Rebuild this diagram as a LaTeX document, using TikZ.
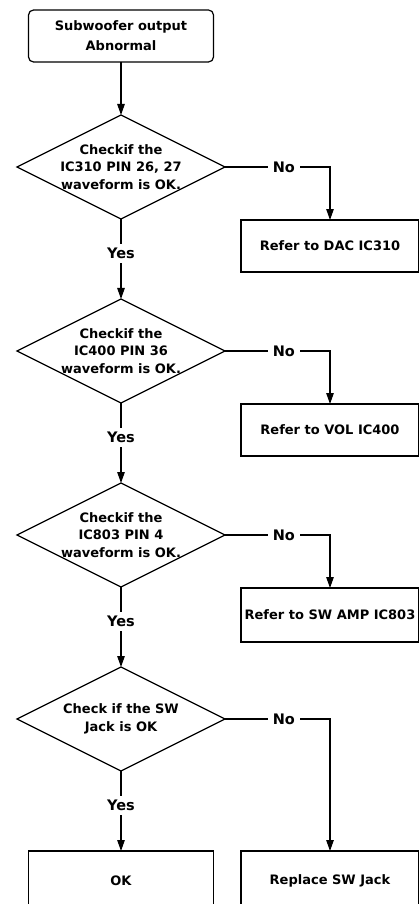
\documentclass[tikz,border=0pt]{standalone}
\usepackage{fontspec}
\setmainfont{DejaVu Sans}
\usetikzlibrary{
  arrows.meta,
  positioning,
  shapes.geometric,
}
\tikzset{
node distance=80pt,
  x = 1pt,
  y = 1pt,
  n/.style={
    draw, line width=1.2pt, inner sep=0pt, outer sep=0pt, align=center,
    font=\bfseries\fontsize{13}{17.5}\selectfont,
  },
  start/.style={n, rounded corners=5pt, minimum width=185pt, minimum height=52pt,
    font=\bfseries\fontsize{13}{20}\selectfont},
  check/.style={n, diamond, aspect=2, inner sep=-6pt,
    minimum width=208pt, minimum height=104pt},
  act/.style={n, minimum width=178pt, minimum height=52pt},
  lbl/.style={fill=white, inner xsep=5pt, inner ysep=4pt,
    font=\bfseries\fontsize{14.5}{16}\selectfont},
  >={Triangle[length=11pt,width=7.5pt]},
}
\begin{document}
\begin{tikzpicture}[line width=1.2pt]
  \useasboundingbox (0,0) rectangle (419,-904);
  \coordinate (col) at (330,0);
  \node[start](Sub) at (121,-36){Subwoofer output\\Abnormal};
  \node[check, below=53pt of Sub](Dac){Checkif the\\IC310 PIN 26, 27\\waveform is OK.};
  \node[check, below=of Dac](Vol){Checkif the\\IC400 PIN 36\\waveform is OK.};
  \node[check, below=of Vol](Amp){Checkif the\\IC803 PIN 4\\waveform is OK.};
  \node[check, below=of Amp](Jack){Check if the SW\\Jack is OK};
  \node[act, below=of Jack, anchor=north, minimum width=185pt, minimum height=60pt](Ok){OK};
  %%
  \node[act, yshift=-79pt](DacR) at (Dac-|col){Refer to DAC IC310};
  \node[act, yshift=-79pt](VolR) at (Vol-|col){Refer to VOL IC400};
  \node[act, yshift=-80pt, minimum height=54pt](AmpR) at (Amp-|col){Refer to SW AMP IC803};
  \node[act, minimum height=60pt](Rep) at (Ok-|col){Replace SW Jack};
  %%
  \draw[->](Sub) -- (Dac);
  \draw[->](Dac) -- node[lbl, pos=.43]{Yes} (Vol);
  \draw[->](Vol) -- node[lbl, pos=.43]{Yes} (Amp);
  \draw[->](Amp) -- node[lbl, pos=.43]{Yes} (Jack);
  \draw[->](Jack) -- node[lbl, pos=.43]{Yes} (Ok);
  %%
  \draw[->](Dac.east) -| node[lbl, pos=.28]{No} (DacR.north);
  \draw[->](Vol.east) -| node[lbl, pos=.28]{No} (VolR.north);
  \draw[->](Amp.east) -| node[lbl, pos=.28]{No} (AmpR.north);
  \draw[->](Jack.east) -| node[lbl, pos=.28]{No} (Rep.north);
\end{tikzpicture}
\end{document}
